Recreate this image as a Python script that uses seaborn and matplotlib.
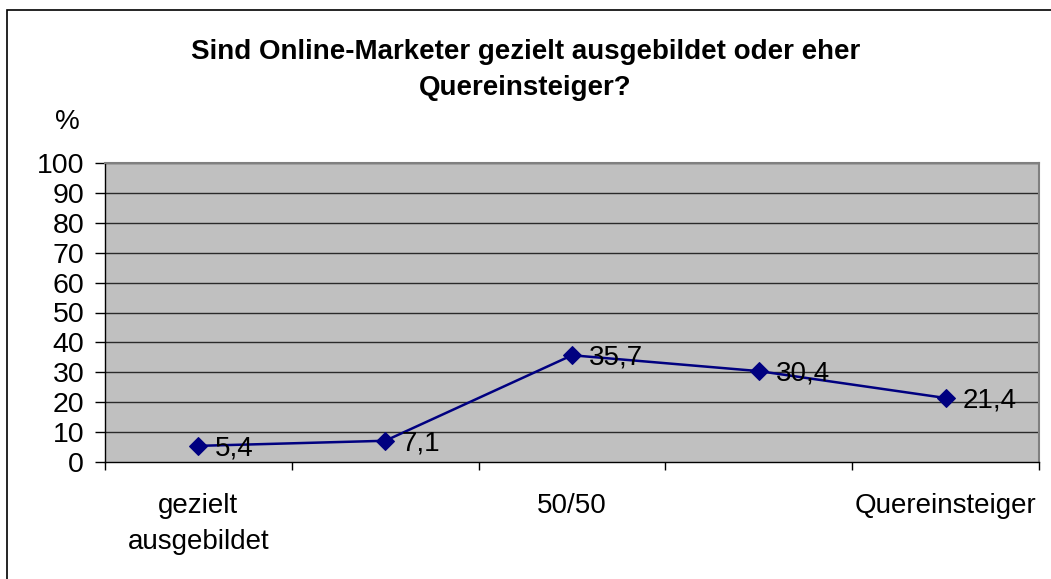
import matplotlib
matplotlib.use('Agg')
import matplotlib.pyplot as plt
from matplotlib.patches import Rectangle
import seaborn as sns
import pandas as pd

categories = ['gezielt\nausgebildet', '', '50/50', '', 'Quereinsteiger']
values = [5.4, 7.1, 35.7, 30.4, 21.4]
y_ticks = list(range(0, 101, 10))
title = 'Sind Online-Marketer gezielt ausgebildet oder eher\nQuereinsteiger?'

sns.set_style('white')
plt.rcParams['font.family'] = ['Liberation Sans', 'DejaVu Sans']
plt.rcParams['text.color'] = 'black'
plt.rcParams['xtick.color'] = 'black'
plt.rcParams['ytick.color'] = 'black'

df = pd.DataFrame({'pos': range(len(values)), 'value': values})

fig = plt.figure(figsize=(10.51, 5.79), dpi=100)
ax = fig.add_axes([105 / 1051, 117 / 579, 934 / 1051, 299 / 579])
ax.set_facecolor('#c0c0c0')

# frame around the whole chart
fig.patches.append(Rectangle((7 / 1051, -0.02), 1.1, (579 - 10) / 579 + 0.02,
                             transform=fig.transFigure, fill=False,
                             edgecolor='black', linewidth=1.2))

for y in y_ticks[1:]:
    ax.axhline(y, color='#2a2a2a', linewidth=1, zorder=1)

sns.lineplot(data=df, x='pos', y='value', ax=ax, color='#000080', linewidth=1.8,
             marker='D', markersize=9, markeredgecolor='#000080', zorder=3)

for i, v in enumerate(values):
    ax.text(i + 0.09, v - 0.9, f'{v:.1f}'.replace('.', ','), fontsize=20,
            ha='left', va='center', color='black', zorder=4)

ax.set_xlim(-0.5, len(values) - 0.5)
ax.set_ylim(0, 100)
ax.set_yticks(y_ticks)
ax.set_yticklabels([str(t) for t in y_ticks], fontsize=20.5)
ax.tick_params(axis='y', which='major', length=7, width=1, pad=8, direction='out', left=True)

# category boundary ticks (unlabeled) and labels at the categories
ax.set_xticks([i - 0.5 for i in range(len(values) + 1)])
ax.set_xticklabels([])
ax.tick_params(axis='x', which='major', length=6, width=1, direction='out', bottom=True)
ax.set_xticks(range(len(values)), minor=True)
ax.set_xticklabels(categories, minor=True, fontsize=20, linespacing=1.5)
ax.tick_params(axis='x', which='minor', length=0, pad=22)

ax.set_xlabel('')
ax.set_ylabel('')
for side in ['top', 'right']:
    ax.spines[side].set_color('#808080')
    ax.spines[side].set_linewidth(1.5)
for side in ['left', 'bottom']:
    ax.spines[side].set_color('black')
    ax.spines[side].set_linewidth(1)

fig.text(67 / 1051, 1 - 122 / 579, '%', fontsize=20, ha='center', va='center')
fig.text(0.5, 1 - 70 / 579, title, fontsize=20, fontweight='bold', ha='center',
         va='center', linespacing=1.5)

fig.savefig('out.png', dpi=100)
